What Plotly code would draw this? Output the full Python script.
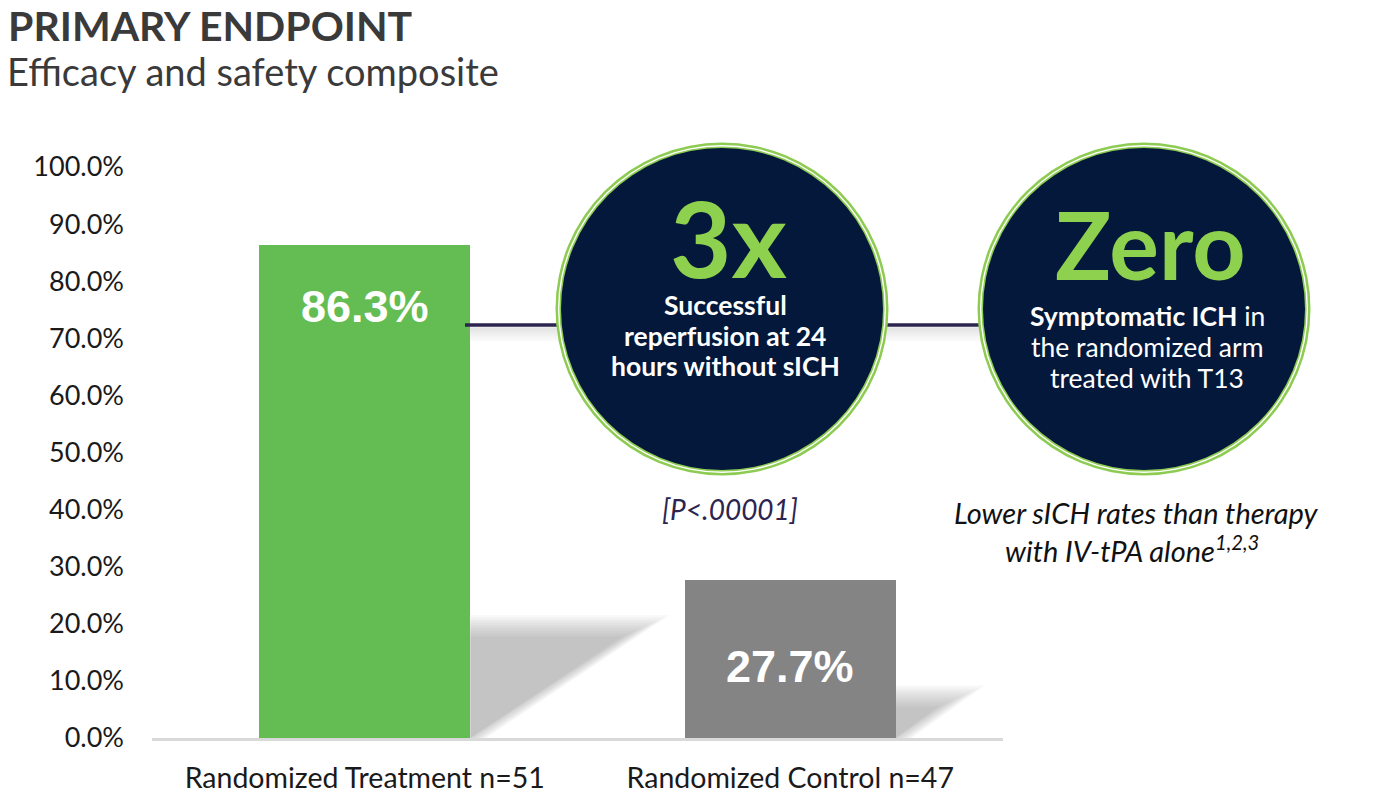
import plotly.graph_objects as go

# ---------------- data ----------------
categories = ["Randomized Treatment n=51", "Randomized Control n=47"]
values = [86.3, 27.7]
bar_colors = ["#64BD52", "#848484"]
y_ticks = [0, 10, 20, 30, 40, 50, 60, 70, 80, 90, 100]
y_tick_labels = [f"{v:.1f}%" for v in y_ticks]
value_labels = [f"{v:.1f}%" for v in values]

title = "PRIMARY ENDPOINT"
subtitle = "Efficacy and safety composite"
circle_big = ["3x", "Zero"]
circle_lines = [
    ["<b>Successful</b>", "<b>reperfusion at 24</b>", "<b>hours without sICH</b>"],
    ["<b>Symptomatic ICH</b> in", "the randomized arm", "treated with T13"],
]
p_text = "[P<.00001]"
note_lines = ["Lower sICH rates than therapy", "with IV-tPA alone<sup>1,2,3</sup>"]

# ---------------- layout geometry (pixels) ----------------
W, H = 1398, 803
L, R, T, B = 152, 1003, 167, 738


def px(x):
    return (x - L) / (R - L)


def py(y):
    return (B - y) / (B - T)


FONT = "Lato, 'Open Sans', sans-serif"
bar_width = 0.496

fig = go.Figure()
fig.add_trace(go.Bar(
    x=[0, 1], y=values, width=bar_width,
    marker=dict(color=bar_colors, line=dict(width=0)),
    hoverinfo="skip", showlegend=False,
))

shapes = []

# soft drop shadows to the right of each bar (derived from bar values)
ypx = (B - T) / 100.0
xpx = (R - L) / 2.0
for i, v in enumerate(values):
    xr = i + bar_width / 2
    h = 0.21 * v + 1.5
    dx = 0.021 * h
    n = 12
    for j in range(n):
        d = (j - 5.5) * 2.0  # pixel offset for blur layers
        top = h - d / ypx
        xtr = xr + dx - d * 2.2 / xpx
        xbr = xr + 0.012 - d / xpx
        path = f"M {xr},0 L {xr},{top} L {xtr},{top} L {max(xbr, xr)},0 Z"
        shapes.append(dict(type="path", xref="x", yref="y", path=path,
                           fillcolor="#8c8c8c", opacity=0.052,
                           line=dict(width=0), layer="below"))

# connecting line shadow
for off, op in [(3, 0.20), (5, 0.17), (7, 0.14), (9, 0.11), (11, 0.08), (13, 0.05), (15, 0.03)]:
    shapes.append(dict(type="line", xref="paper", yref="paper",
                       x0=px(468), x1=px(1144), y0=py(325 + off), y1=py(325 + off),
                       line=dict(color="#a0a0a0", width=3), opacity=op, layer="above"))
# connecting line
shapes.append(dict(type="line", xref="paper", yref="paper",
                   x0=px(465), x1=px(1144), y0=py(325), y1=py(325),
                   line=dict(color="#2B2550", width=3.5), layer="above"))

# circles
centers = [(722, 309), (1144, 309)]
rings = [(166.5, "#8DCB52"), (164.0, "#FFFFFF"), (162.6, "#8DCB52"), (161.0, "#03183A")]
for cx, cy in centers:
    for r, col in rings:
        shapes.append(dict(type="circle", xref="paper", yref="paper",
                           xsizemode="pixel", ysizemode="pixel",
                           xanchor=px(cx), yanchor=py(cy),
                           x0=-r, x1=r, y0=-r, y1=r,
                           fillcolor=col, line=dict(width=0), layer="above"))

annotations = []


def txt(text, x, y, size, color, anchor="center", family=FONT, weight=None):
    f = dict(family=family, size=size, color=color)
    if weight:
        f["weight"] = weight
    annotations.append(dict(text=text, xref="paper", yref="paper",
                            x=px(x), y=py(y), xanchor=anchor, yanchor="middle",
                            showarrow=False, align="center", font=f))


# title & subtitle
txt(f"<b>{title}</b>", 6, 25, 41, "#3A3A3A", anchor="left")
txt(subtitle, 5, 71, 38, "#3A3A3A", anchor="left")

# bar value labels
label_shift = [-61, -87]
for i, (v, t) in enumerate(zip(values, value_labels)):
    annotations.append(dict(text=f"<b>{t}</b>", x=i, y=v, xref="x", yref="y",
                            yshift=label_shift[i], showarrow=False,
                            xanchor="center", yanchor="middle",
                            font=dict(family="'Liberation Sans', Arial, sans-serif",
                                      size=45, color="#FFFFFF")))

# circle texts
big_pos = [(728, 237), (1150, 244)]
big_size = [106, 93]
line_pos = [(725, [305, 336, 366]), (1147, [316, 347, 378])]
for i in range(2):
    txt(f"<b>{circle_big[i]}</b>", big_pos[i][0], big_pos[i][1], big_size[i],
        "#8ED14F", weight=900)
    cx, ys = line_pos[i]
    for line, yy in zip(circle_lines[i], ys):
        txt(line, cx, yy, 26.5, "#FFFFFF")

# p-value and note
txt(f"<i>{p_text}</i>", 730, 509, 28, "#2B2550")
txt(f"<i>{note_lines[0]}</i>", 1136, 512, 29, "#111111")
txt(f"<i>{note_lines[1]}</i>", 1132, 549, 29, "#111111")

fig.update_layout(
    template="none",
    width=W, height=H, autosize=False,
    margin=dict(l=L, r=W - R, t=T, b=H - B, pad=0),
    paper_bgcolor="#FFFFFF", plot_bgcolor="#FFFFFF",
    shapes=shapes, annotations=annotations,
    bargap=0, showlegend=False,
    xaxis=dict(range=[-0.5, 1.5], tickvals=[0, 1], ticktext=categories,
               showline=True, linecolor="#D9D9D9", linewidth=3,
               showgrid=False, zeroline=False, ticks="",
               automargin=False, ticklabelstandoff=13,
               tickfont=dict(family=FONT, size=28.5, color="#1A1A1A"),
               fixedrange=True),
    yaxis=dict(range=[0, 100], tickvals=y_ticks, ticktext=y_tick_labels,
               showline=False, showgrid=False, zeroline=False, ticks="",
               automargin=False, ticklabelstandoff=27,
               tickfont=dict(family=FONT, size=27, color="#1A1A1A"),
               fixedrange=True),
)

fig.write_html("out.html", config={"displayModeBar": False},
               post_script="document.body.style.margin='0';document.body.style.overflow='hidden';")
